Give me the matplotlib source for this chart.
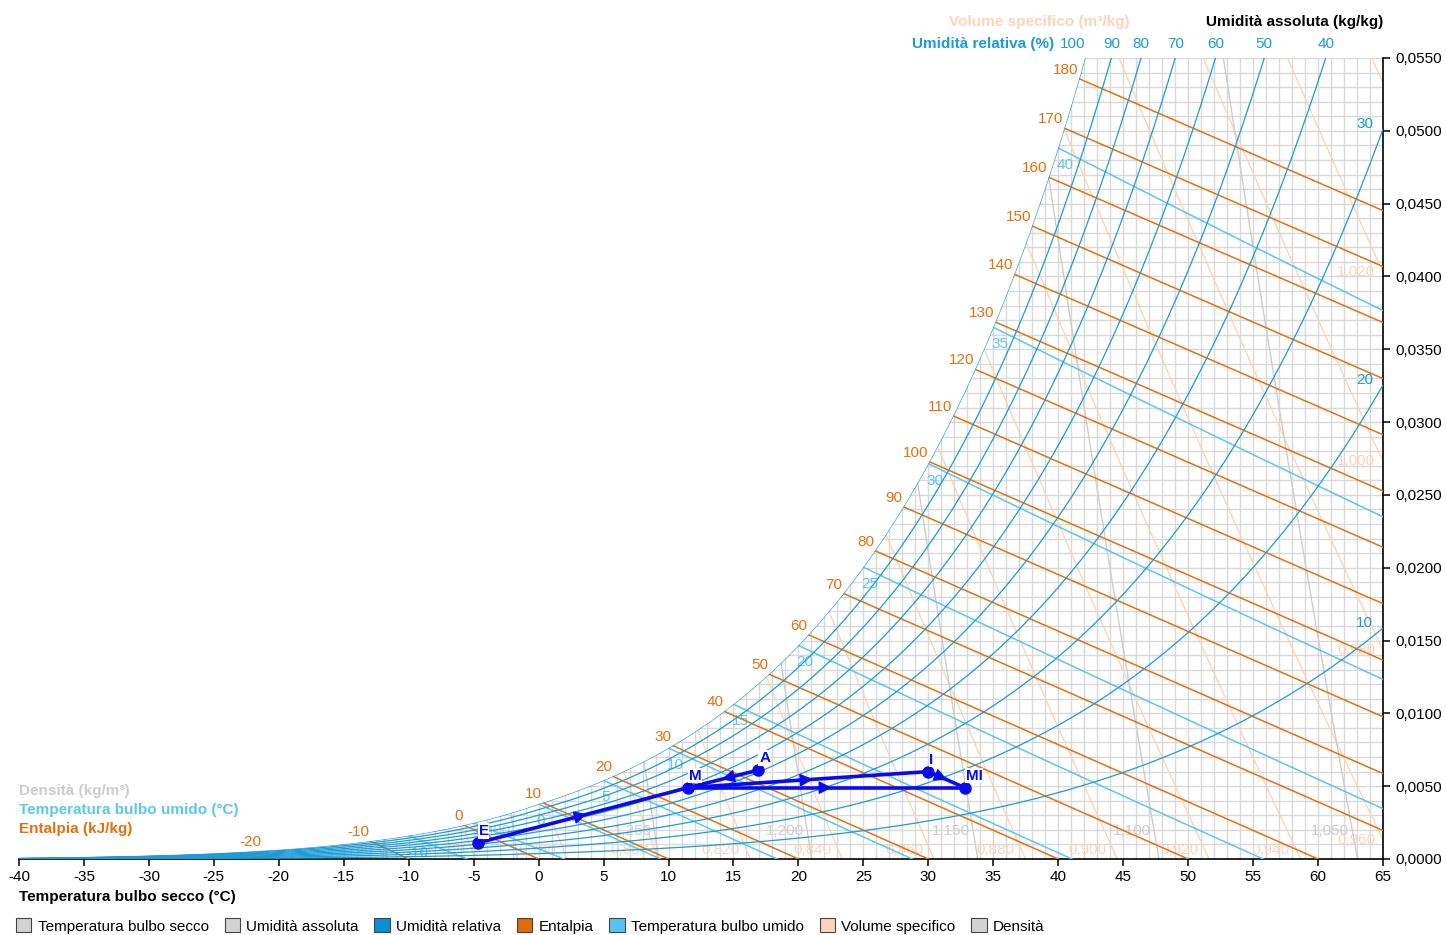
#!/usr/bin/env python
# Psychrometric chart (diagramma psicrometrico) with a small air-handling process

import numpy as np
import matplotlib
matplotlib.use('Agg')
import matplotlib.pyplot as plt
from matplotlib.patches import Patch, Polygon

plt.rcParams['font.family'] = ['Liberation Sans', 'DejaVu Sans']

P_ATM = 101325.0
T_MIN, T_MAX = -40, 65
W_MAX = 0.055

# chart levels
RH_LEVELS = [10, 20, 30, 40, 50, 60, 70, 80, 90, 100]
RH_TOP_LABELS = [100, 90, 80, 70, 60, 50, 40]
RH_SIDE_LABELS = [30, 20, 10]
ENTHALPY_LEVELS = [-20, -10, 0, 10, 20, 30, 40, 50, 60, 70, 80, 90, 100,
                   110, 120, 130, 140, 150, 160, 170, 180]
WETBULB_LEVELS = [-10, -5, 0, 5, 10, 15, 20, 25, 30, 35, 40]
VOLUME_LEVELS = [0.74, 0.76, 0.78, 0.80, 0.82, 0.84, 0.86, 0.88, 0.90,
                 0.92, 0.94, 0.96, 0.98, 1.00, 1.02, 1.04]
DENSITY_LEVELS = [1.05, 1.10, 1.15, 1.20, 1.25, 1.30, 1.35]
DENSITY_LABELS = [1.05, 1.10, 1.15, 1.20, 1.25, 1.30]
X_TICKS = list(range(-40, 70, 5))
Y_TICKS = [0.0, 0.005, 0.010, 0.015, 0.020, 0.025, 0.030, 0.035, 0.040,
           0.045, 0.050, 0.055]

# process points (dry bulb degC, absolute humidity kg/kg)
POINT_NAMES = ['E', 'M', 'A', 'I', 'MI']
POINT_T = [-4.7, 11.5, 16.9, 30.0, 32.8]
POINT_W = [0.0011, 0.0049, 0.0061, 0.0060, 0.0049]
SEGMENTS = [('E', 'M'), ('A', 'M'), ('M', 'I'), ('I', 'MI'), ('M', 'MI')]

RH_COLOR = '#1b9bd8'
ENTH_COLOR = '#e4700f'
WB_COLOR = '#5cc6f2'
VOL_COLOR = '#fcd5b8'
DENS_COLOR = '#cdcdcd'
GRID_COLOR = '#d9d9d9'
PROC_COLOR = '#0a0af0'


def p_sat(t):
    t = np.asarray(t, dtype=float)
    water = 610.94 * np.exp(17.625 * t / (t + 243.04))
    ice = 611.21 * np.exp(22.587 * t / (t + 273.86))
    return np.where(t >= 0, water, ice)


def w_from_pv(pv):
    return 0.622 * pv / (P_ATM - pv)


def w_sat(t):
    return w_from_pv(p_sat(t))


def t_from_pws(p):
    a = np.log(p / 610.94)
    return 243.04 * a / (17.625 - a)


def bisect(f, lo, hi, n=80):
    flo = f(lo)
    for _ in range(n):
        mid = 0.5 * (lo + hi)
        fm = f(mid)
        if (fm > 0) == (flo > 0):
            lo, flo = mid, fm
        else:
            hi = mid
    return 0.5 * (lo + hi)


def enthalpy_w(h, t):
    return (h - 1.006 * t) / (2501.0 + 1.86 * t)


def wetbulb_w(twb, t):
    ws = w_sat(twb)
    if twb >= 0:
        return ((2501 - 2.326 * twb) * ws - 1.006 * (t - twb)) / (2501 + 1.86 * t - 4.186 * twb)
    return ((2830 - 0.24 * twb) * ws - 1.006 * (t - twb)) / (2830 + 1.86 * t - 2.1 * twb)


def volume_t(v, w):
    return v * P_ATM / 1000.0 / (0.287042 * (1 + 1.607858 * w)) - 273.15


def density_t(rho, w):
    return volume_t((1 + w) / rho, w)


def fmt_comma(v, nd):
    return f'{v:.{nd}f}'.replace('.', ',')


def main():
    fig = plt.figure(figsize=(14.46, 9.35), dpi=100)
    ax = fig.add_axes([19 / 1446, 76 / 935, 1364 / 1446, 801 / 935])
    ax.set_xlim(T_MIN, T_MAX)
    ax.set_ylim(0, W_MAX)

    # region under the saturation curve
    ts = np.linspace(T_MIN, T_MAX, 3000)
    ws = np.minimum(w_sat(ts), W_MAX)
    verts = list(zip(ts, ws)) + [(T_MAX, 0), (T_MIN, 0)]
    clip = Polygon(verts, closed=True, transform=ax.transData,
                   facecolor='none', edgecolor='none')
    ax.add_patch(clip)

    def clipped(artists):
        for a in artists:
            a.set_clip_path(clip)

    # fine grid
    v = ax.vlines(np.arange(T_MIN, T_MAX + 1), 0, W_MAX, colors=GRID_COLOR,
                  lw=1.0, zorder=1)
    h = ax.hlines(np.arange(1, 56) * 0.001, T_MIN, T_MAX, colors=GRID_COLOR,
                  lw=1.0, zorder=1)
    clipped([v, h])

    # specific volume
    wl = np.linspace(0, W_MAX, 400)
    for vol in VOLUME_LEVELS:
        clipped(ax.plot(volume_t(vol, wl), wl, color=VOL_COLOR, lw=1.0, zorder=2))
        tb = volume_t(vol, 0.0006)
        if tb < 63:
            ax.text(tb - 2.0, 0.0006, fmt_comma(vol, 3), color=VOL_COLOR,
                    fontsize=11, ha='center', va='center', zorder=2)
        else:
            w_exit = (vol * P_ATM / 1000 / (0.287042 * (T_MAX + 273.15)) - 1) / 1.607858
            if w_exit < 0.05:
                ax.text(T_MAX - 0.6, w_exit, fmt_comma(vol, 3), color=VOL_COLOR,
                        fontsize=11, ha='right', va='center', zorder=2)

    # density
    for rho in DENSITY_LEVELS:
        clipped(ax.plot(density_t(rho, wl), wl, color=DENS_COLOR, lw=1.0, zorder=2))
        if rho in DENSITY_LABELS:
            ax.text(density_t(rho, 0.0019) - 1.7, 0.0019, fmt_comma(rho, 3),
                    color=DENS_COLOR, fontsize=11, ha='center', va='center', zorder=2)

    # wet bulb
    for twb in WETBULB_LEVELS:
        tl = np.linspace(twb, T_MAX, 300)
        clipped(ax.plot(tl, wetbulb_w(twb, tl), color=WB_COLOR, lw=1.1, zorder=3))
        ax.annotate(str(twb), (twb, float(w_sat(twb))), textcoords='offset pixels',
                    xytext=(-2, -10), ha='left', va='top', color=WB_COLOR,
                    fontsize=11, zorder=3)

    # enthalpy: straight from the saturation point to the dry-air axis
    for hv in ENTHALPY_LEVELS:
        t0 = bisect(lambda t: enthalpy_w(hv, t) - float(w_sat(t)), -45, 70)
        w0 = enthalpy_w(hv, t0)
        clipped(ax.plot([t0, hv], [w0, 0.0], color=ENTH_COLOR, lw=1.1, zorder=3))
        ax.annotate(str(hv), (t0, w0), textcoords='offset pixels',
                    xytext=(-1, 2), ha='right', va='bottom', color=ENTH_COLOR,
                    fontsize=11, zorder=3)

    # relative humidity
    tr = np.linspace(T_MIN, T_MAX, 1500)
    pv_top = W_MAX * P_ATM / (0.622 + W_MAX)
    for rh in RH_LEVELS:
        wr = w_from_pv(rh / 100.0 * p_sat(tr))
        clipped(ax.plot(tr, wr, color=RH_COLOR, lw=0.9, zorder=4))
        if rh in RH_TOP_LABELS:
            ax.annotate(str(rh), (t_from_pws(pv_top / (rh / 100.0)), W_MAX),
                        textcoords='offset pixels', xytext=(-13 if rh == 100 else 0, 14),
                        ha='center', va='center', color=RH_COLOR, fontsize=11,
                        annotation_clip=False)
        if rh in RH_SIDE_LABELS:
            w_side = float(w_from_pv(rh / 100.0 * p_sat(T_MAX)))
            ax.annotate(str(rh), (T_MAX, w_side), textcoords='offset pixels',
                        xytext=(-10, 5), ha='right', va='center', color=RH_COLOR,
                        fontsize=11)

    # process
    pts = {n: (t, w) for n, t, w in zip(POINT_NAMES, POINT_T, POINT_W)}
    for a, b in SEGMENTS:
        (ta, wa), (tb, wb) = pts[a], pts[b]
        ax.plot([ta, tb], [wa, wb], color=PROC_COLOR, lw=2.6, zorder=6,
                solid_capstyle='round')
        tm, wm = 0.5 * (ta + tb), 0.5 * (wa + wb)
        ax.annotate('', xy=(tm + 0.02 * (tb - ta), wm + 0.02 * (wb - wa)),
                    xytext=(tm, wm),
                    arrowprops=dict(arrowstyle='-|>', color=PROC_COLOR, lw=1,
                                    mutation_scale=20, shrinkA=0, shrinkB=0),
                    zorder=7)
    ax.plot(POINT_T, POINT_W, 'o', color=PROC_COLOR, ms=8, zorder=8)
    for n, t, w in zip(POINT_NAMES, POINT_T, POINT_W):
        ax.annotate(n, (t, w), textcoords='offset pixels', xytext=(1, 5),
                    ha='left', va='bottom', color=PROC_COLOR, fontsize=11,
                    fontweight='bold', zorder=9,
                    bbox=dict(boxstyle='square,pad=0.05', fc='white', ec='none'))

    # axes
    for side in ['left', 'top']:
        ax.spines[side].set_visible(False)
    ax.spines['right'].set_linewidth(1.2)
    ax.spines['bottom'].set_linewidth(1.2)
    ax.yaxis.tick_right()
    ax.set_xticks(X_TICKS)
    ax.set_xticklabels([str(t) for t in X_TICKS])
    ax.set_yticks(Y_TICKS)
    ax.set_yticklabels([fmt_comma(w, 4) for w in Y_TICKS])
    ax.tick_params(axis='both', labelsize=11, length=5, width=1.1, direction='out')
    ax.tick_params(axis='x', pad=3)
    ax.tick_params(axis='y', pad=4)

    # titles and captions
    fig.text(1130 / 1446, 1 - 22 / 935, 'Volume specifico (m³/kg)', color=VOL_COLOR,
             fontsize=11, fontweight='bold', ha='right', va='center')
    fig.text(1383 / 1446, 1 - 22 / 935, 'Umidità assoluta (kg/kg)', color='black',
             fontsize=11, fontweight='bold', ha='right', va='center')
    fig.text(1054 / 1446, 1 - 44 / 935, 'Umidità relativa (%)', color=RH_COLOR,
             fontsize=11, fontweight='bold', ha='right', va='center')
    fig.text(19 / 1446, 1 - 791 / 935, 'Densità (kg/m³)', color=DENS_COLOR,
             fontsize=11, fontweight='bold', ha='left', va='center')
    fig.text(19 / 1446, 1 - 810 / 935, 'Temperatura bulbo umido (°C)', color=WB_COLOR,
             fontsize=11, fontweight='bold', ha='left', va='center')
    fig.text(19 / 1446, 1 - 829 / 935, 'Entalpia (kJ/kg)', color=ENTH_COLOR,
             fontsize=11, fontweight='bold', ha='left', va='center')
    fig.text(19 / 1446, 1 - 897 / 935, 'Temperatura bulbo secco (°C)', color='black',
             fontsize=11, fontweight='bold', ha='left', va='center')

    legend_items = [('Temperatura bulbo secco', '#d3d3d3'),
                    ('Umidità assoluta', '#d3d3d3'),
                    ('Umidità relativa', '#0a8fd6'),
                    ('Entalpia', '#e06a05'),
                    ('Temperatura bulbo umido', '#55c3f0'),
                    ('Volume specifico', '#fcd5b8'),
                    ('Densità', '#d3d3d3')]
    handles = [Patch(facecolor=c, edgecolor='#444444', lw=0.8, label=n)
               for n, c in legend_items]
    fig.legend(handles=handles, loc='center left',
               bbox_to_anchor=(10 / 1446, 1 - 926 / 935), ncol=7, frameon=False,
               fontsize=11, handlelength=1.0, handleheight=1.0,
               handletextpad=0.4, columnspacing=1.05, borderaxespad=0)

    fig.savefig('out.png', dpi=100)
    plt.close(fig)


if __name__ == '__main__':
    main()
